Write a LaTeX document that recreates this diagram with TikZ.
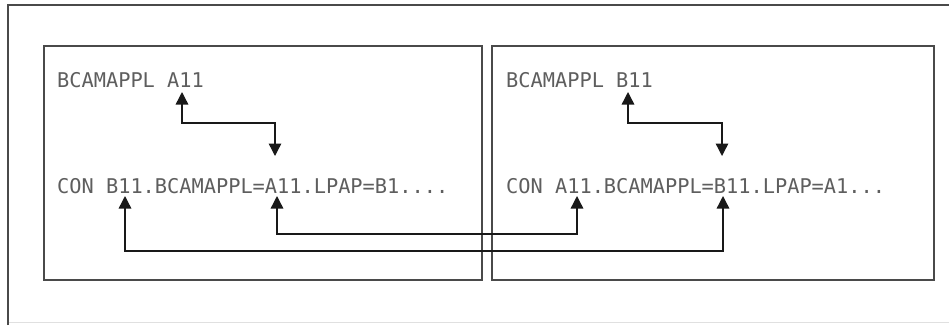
\documentclass[tikz,border=0pt]{standalone}
\usepackage{fontspec}
\newfontfamily\codefont{DejaVu Sans Mono}
\usetikzlibrary{arrows.meta}
\definecolor{codegray}{HTML}{5E5E5E}
\definecolor{framegray}{HTML}{4A4A4A}
\tikzset{
  codetext/.style={anchor=base west, inner sep=0pt, text=codegray,
    font=\codefont\fontsize{20.3pt}{22pt}\selectfont},
  hostbox/.style={draw=framegray, line width=1.5pt},
  link/.style={draw=black!90, line width=1.4pt,
    {Triangle[width=12.5pt,length=12.5pt]}-{Triangle[width=12.5pt,length=12.5pt]}},
}
\begin{document}
\begin{tikzpicture}[x=1pt,y=-1pt]
  \useasboundingbox (0,0) rectangle (949,325);
  \fill[white] (0,0) rectangle (949,325);
  % surrounding frame (open to the right)
  \draw[black!12, line width=0.6pt] (8,322) -- (949,322);
  \draw[framegray, line width=2pt] (8,325) -- (8,5) -- (949,5);

  % the two host boxes
  \draw[hostbox] (44,46) rectangle (482,280);
  \draw[hostbox] (492,46) rectangle (934,280);

  % statements on host A
  \node[codetext] (appA) at (57,87) {BCAMAPPL A11};
  \node[codetext] (conA) at (57,193) {CON B11.BCAMAPPL=A11.LPAP=B1....};
  % statements on host B
  \node[codetext] (appB) at (506,87) {BCAMAPPL B11};
  \node[codetext] (conB) at (506,193) {CON A11.BCAMAPPL=B11.LPAP=A1...};

  % connector ends
  \coordinate (aTop)  at (182,92);
  \coordinate (aMid)  at (275,156);
  \coordinate (aBend) at (275,123);
  \coordinate (bTop)  at (628,92);
  \coordinate (bMid)  at (722,156);
  \coordinate (bBend) at (722,123);
  \coordinate (aB11)  at (125,196);
  \coordinate (aA11)  at (277,196);
  \coordinate (bA11)  at (577,196);
  \coordinate (bB11)  at (723,196);
  \coordinate (lowA)  at (277,234);
  \coordinate (lowB)  at (125,251);

  % local application name to CON statement
  \draw[link] (aTop) |- (aBend) -- (aMid);
  \draw[link] (bTop) |- (bBend) -- (bMid);
  % cross references between the hosts
  \draw[link] (aA11) -- (lowA) -| (bA11);
  \draw[link] (aB11) -- (lowB) -| (bB11);
\end{tikzpicture}
\end{document}
